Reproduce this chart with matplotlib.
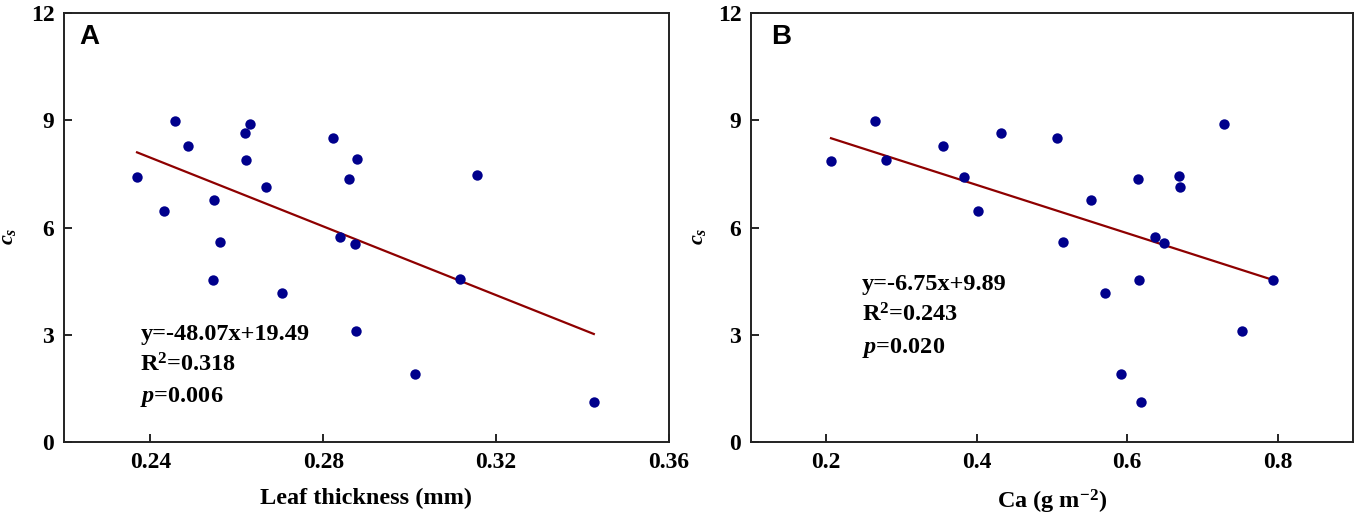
import numpy as np
import matplotlib
matplotlib.use("Agg")
import matplotlib.pyplot as plt

plt.rcParams['font.family'] = 'Liberation Serif'
plt.rcParams['font.weight'] = 'bold'
plt.rcParams['axes.labelweight'] = 'bold'
plt.rcParams['mathtext.fontset'] = 'custom'
plt.rcParams['mathtext.rm'] = 'Liberation Serif:bold'
plt.rcParams['mathtext.it'] = 'Liberation Serif:italic:bold'
plt.rcParams['mathtext.bf'] = 'Liberation Serif:bold'

# panel A: leaf thickness (mm) vs cs
thick = [0.2369, 0.2456, 0.2431, 0.2488, 0.2547, 0.2562, 0.2545, 0.2618, 0.2631, 0.2621, 0.2668,
         0.2705, 0.2822, 0.2879, 0.2859, 0.2838, 0.2873, 0.2875, 0.3013, 0.3116, 0.3156, 0.3426]
cs_a = [7.40, 8.99, 6.46, 8.27, 6.78, 5.59, 4.53, 8.65, 8.90, 7.88, 7.12,
        4.18, 8.49, 7.91, 7.36, 5.73, 5.55, 3.10, 1.91, 4.55, 7.46, 1.13]

# panel B: Ca (g m-2) vs cs
ca = [0.2063, 0.2654, 0.2790, 0.3553, 0.3830, 0.4014, 0.4322, 0.5065, 0.5143, 0.5520, 0.5698,
      0.5923, 0.6137, 0.6153, 0.6184, 0.6367, 0.6482, 0.6686, 0.6697, 0.7283, 0.7523, 0.7936]
cs_b = [7.87, 8.99, 7.90, 8.27, 7.41, 6.46, 8.65, 8.49, 5.59, 6.78, 4.18,
        1.91, 7.36, 4.53, 1.13, 5.73, 5.56, 7.45, 7.12, 8.90, 3.10, 4.54]

fit_a = (-48.07, 19.49)
fit_b = (-6.75, 9.89)
stats_a = ['y=-48.07x+19.49', 'R$^2$=0.318', '$p$=0.006']
stats_b = ['y=-6.75x+9.89', 'R$^2$=0.243', '$p$=0.020']

dot_col = '#00008C'
line_col = '#8E0000'

fig = plt.figure(figsize=(13.58, 5.18), dpi=100)
axA = fig.add_axes([64/1358, 76/518, 605/1358, 429/518])
axB = fig.add_axes([751/1358, 76/518, 602/1358, 429/518])

def panel(ax, x, y, fit, stats, letter, xlim, xticks, xlabel, tx, ty, lx, ylx):
    ax.scatter(x, y, s=56, color=dot_col, zorder=3, linewidths=0)
    xs = np.array([min(x), max(x)])
    ax.plot(xs, fit[0]*xs + fit[1], color=line_col, lw=1.6, zorder=2)
    ax.set_xlim(xlim)
    ax.set_ylim(0, 12)
    ax.set_xticks(xticks)
    ax.set_yticks([0, 3, 6, 9, 12])
    ax.tick_params(direction='in', length=6, width=1.2, labelsize=17, pad=7)
    for s in ax.spines.values():
        s.set_linewidth(1.4)
        s.set_color('#222222')
    ax.set_xlabel(xlabel, fontsize=17.5, labelpad=11)
    ax.set_ylabel('$c_s$', fontsize=16)
    ax.yaxis.set_label_coords(ylx, 0.48)
    for t, yy in zip(stats, ty):
        ax.text(tx, yy, t, fontsize=17.5, va='baseline', ha='left')
    ax.text(lx, 0.945, letter, transform=ax.transAxes, fontsize=20,
            family='Liberation Sans', weight='bold', va='center', ha='left')

panel(axA, thick, cs_a, fit_a, stats_a, 'A', (0.22, 0.36), [0.24, 0.28, 0.32, 0.36],
      'Leaf thickness (mm)', 0.2377, [2.853, 1.986, 1.119], 0.025, -0.076)
panel(axB, ca, cs_b, fit_b, stats_b, 'B', (0.1, 0.9), [0.2, 0.4, 0.6, 0.8],
      'Ca (g m$^{-2}$)', 0.2475, [4.25, 3.36, 2.49], 0.033, -0.071)
axA.set_xticklabels(['0.24', '0.28', '0.32', '0.36'])
axB.set_xticklabels(['0.2', '0.4', '0.6', '0.8'])

fig.savefig('out.png', dpi=100)
